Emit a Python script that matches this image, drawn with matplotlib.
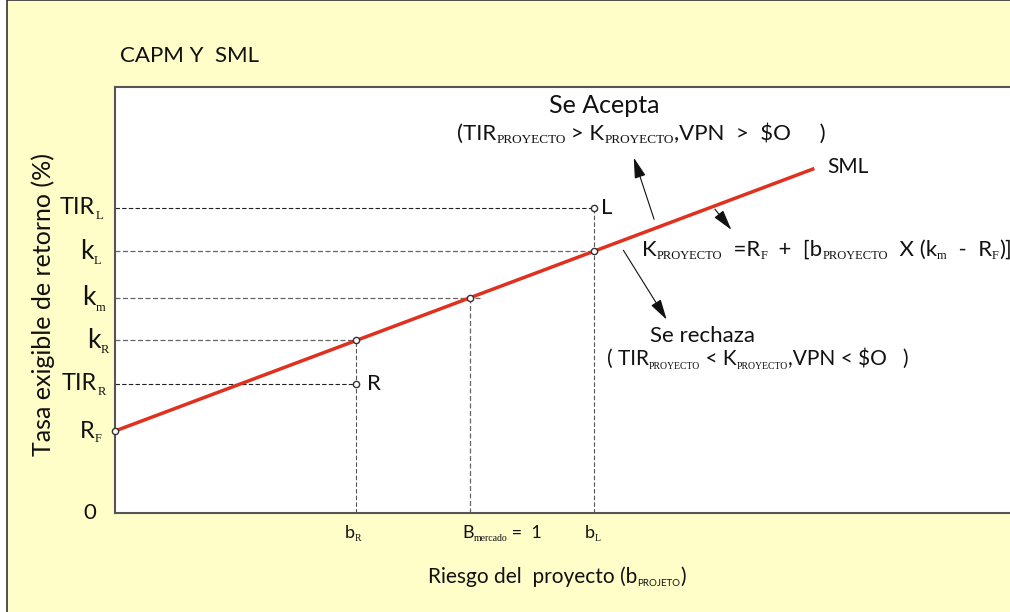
import matplotlib.pyplot as plt
import matplotlib.transforms as mtransforms
from matplotlib.patches import Rectangle

# CAPM / SML values (beta, required return in %)
rf = 4.0
k_m = 10.5
beta_m = 1.0
beta_R = 0.68
beta_L = 1.35
beta_end = 1.97
tir_L = 14.9
tir_R = 6.3

SANS = "Lato"
SERIF = "Liberation Serif"
W, H = 1010, 612


def sml(b):
    return rf + b * (k_m - rf)


def px(x, y):
    # pixel position -> figure fraction
    return x / W, 1 - y / H


def rich_text(ax, x, y, parts, size=16, sub_size=8, transform=None, va="baseline", drop=1.5):
    """Chain text pieces; style 'n' normal, 's' serif subscript, 'ss' sans subscript."""
    prev = None
    prev_drop = 0
    for txt, style in parts:
        sub = style != "n"
        fs = sub_size if sub else size
        fam = SERIF if style == "s" else SANS
        d = drop if sub else 0
        if prev is None:
            prev = ax.text(x, y, txt, fontsize=fs, family=fam, va=va, ha="left",
                           transform=transform or ax.transData, color="#111111")
        else:
            prev = ax.annotate(txt, xy=(1, 0), xycoords=prev, xytext=(0, prev_drop - d),
                               textcoords="offset points", fontsize=fs, family=fam,
                               va="bottom", ha="left", color="#111111")
        prev_drop = d
    return prev


fig = plt.figure(figsize=(W / 100, H / 100), dpi=100)
fig.patch.set_facecolor("white")
fig.patches.append(Rectangle(px(7, 700), 1.2, 700 / H, transform=fig.transFigure,
                             facecolor="#FFFDC8", edgecolor="#333333", lw=1.2, zorder=-1))

ax = fig.add_axes([115 / W, 99 / H, 910 / W, 426 / H])
ax.set_facecolor("white")
ax.set_xlim(0, 910 / 355)
ax.set_ylim(0, 426 / 20.5)
ax.set_xticks([])
ax.set_yticks([])
for s in ["top", "left", "bottom"]:
    ax.spines[s].set_color("#555555")
    ax.spines[s].set_linewidth(1.5)
ax.spines["right"].set_visible(False)

dash = (0, (4, 2))
# horizontal guides
ax.plot([0, beta_L], [tir_L, tir_L], ls=dash, color="#222222", lw=0.8)
ax.plot([0, beta_L], [sml(beta_L)] * 2, ls=dash, color="#666666", lw=0.9)
ax.plot([0, beta_m + 0.03], [k_m, k_m], ls=dash, color="#666666", lw=0.9)
ax.plot([0, beta_R], [sml(beta_R)] * 2, ls=dash, color="#666666", lw=0.9)
ax.plot([0, beta_R], [tir_R, tir_R], ls=dash, color="#222222", lw=0.8)
# vertical guides
ax.plot([beta_L, beta_L], [0, tir_L], ls=dash, color="#555555", lw=0.8)
ax.plot([beta_m, beta_m], [0, k_m], ls=dash, color="#666666", lw=0.9)
ax.plot([beta_R, beta_R], [0, sml(beta_R)], ls=dash, color="#555555", lw=0.8)

# security market line
ax.plot([0, beta_end], [sml(0), sml(beta_end)], color="#E0301E", lw=2.5, solid_capstyle="butt")

pts_x = [0, beta_R, beta_m, beta_L, beta_L, beta_R]
pts_y = [rf, sml(beta_R), k_m, sml(beta_L), tir_L, tir_R]
ax.plot(pts_x, pts_y, ls="none", marker="o", ms=4.5, mfc="white", mec="#333333", mew=1,
        clip_on=False, zorder=5)

# arrows
arr = dict(arrowstyle="-|>,head_length=0.9,head_width=0.25", color="#111111", lw=0.8,
           mutation_scale=14)
ax.annotate("", xy=(1.459, 17.46), xytext=(1.521, 14.20), arrowprops=arr)
ax.annotate("", xy=(1.741, 13.71), xytext=(1.685, 14.93), arrowprops=arr)
ax.annotate("", xy=(1.558, 9.32), xytext=(1.428, 12.93), arrowprops=arr)

# annotations
ax.text(1.223, 19.51, "Se Acepta", fontsize=18, family=SANS, color="#111111")
rich_text(ax, 0.963, 18.20, [("(TIR", "n"), ("PROYECTO", "s"), (" > K", "n"),
                             ("PROYECTO", "s"), (",VPN  >  $O     )", "n")], sub_size=9.5)
ax.text(2.006, 16.59, "SML", fontsize=15, family=SANS, color="#111111")
ax.text(1.369, 14.59, "L", fontsize=16, family=SANS, color="#111111")
ax.text(0.710, 6.0, "R", fontsize=16, family=SANS, color="#111111")
rich_text(ax, 1.485, 12.54, [("K", "n"), ("PROYECTO", "s"), ("  =R", "n"), ("F", "s"),
                             ("  +  [b", "n"), ("PROYECTO", "s"), ("  X (k", "n"), ("m", "s"),
                             ("  -  R", "n"), ("F", "s"), (")]", "n")], sub_size=9)
ax.text(1.507, 8.34, "Se rechaza", fontsize=16, family=SANS, color="#111111")
rich_text(ax, 1.386, 7.22, [("( TIR", "n"), ("PROYECTO", "s"), (" < K", "n"),
                            ("PROYECTO", "s"), (",VPN < $O   )", "n")], size=15, sub_size=7)

# y-axis labels
ytr = mtransforms.blended_transform_factory(fig.transFigure, ax.transData)
y_labels = [("TIR", "L", 60, tir_L, 17), ("k", "L", 80, sml(beta_L), 19),
            ("k", "m", 82, k_m, 19), ("k", "R", 87, sml(beta_R), 19),
            ("TIR", "R", 62, tir_R, 17), ("R", "F", 80, rf, 17)]
for main, sub, xl, yv, fs in y_labels:
    rich_text(ax, xl / W, yv, [(main, "n"), (sub, "s")], size=fs, sub_size=9,
              transform=ytr, va="center", drop=2.5)
ax.text(83 / W, 0, "0", fontsize=16, family=SANS, va="center", transform=ytr, color="#111111")

# x-axis labels
xtr = mtransforms.blended_transform_factory(ax.transData, fig.transFigure)
yb = 1 - 538 / H
rich_text(ax, beta_R - 12 / 355, yb, [("b", "n"), ("R", "s")], size=13, sub_size=7, transform=xtr)
rich_text(ax, beta_m - 8 / 355, yb, [("B", "n"), ("mercado", "s"), (" =  1", "n")],
          size=13, sub_size=7, transform=xtr)
rich_text(ax, beta_L - 10 / 355, yb, [("b", "n"), ("L", "s")], size=13, sub_size=7, transform=xtr)

# titles
fig.text(*px(120, 62), "CAPM Y  SML", fontsize=16, family=SANS, va="baseline", color="#111111")
fig.text(*px(43, 305), "Tasa exigible de retorno (%)", fontsize=18, family=SANS, rotation=90,
         va="center", ha="center", color="#111111")
rich_text(ax, *px(428, 583), [("Riesgo del  proyecto (b", "n"), ("PROJETO", "ss"), (")", "n")],
          size=15, sub_size=7, transform=fig.transFigure, drop=1.0)

fig.savefig("out.png", dpi=100)
